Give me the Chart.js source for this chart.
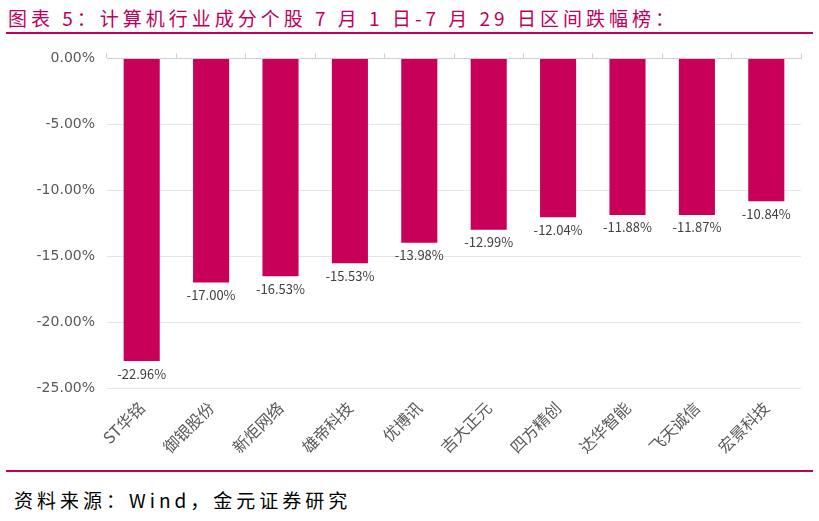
<!DOCTYPE html>
<html><head><meta charset="utf-8">
<script src="https://cdn.jsdelivr.net/npm/chart.js@4"></script>
<style>
body{margin:0;width:819px;height:521px;background:#fff;position:relative;font-family:"Noto Sans CJK SC",sans-serif;overflow:hidden}
#title{position:absolute;left:8px;top:4px;font-size:19px;color:#c0005a;letter-spacing:4px;white-space:nowrap}
.rule{position:absolute;left:6px;width:807px;height:2px;background:#c0005a}
#src{position:absolute;left:14px;top:486px;font-size:19px;color:#000;letter-spacing:4px}
#wrap{position:absolute;left:0;top:38px;width:819px;height:430px}
</style></head><body>
<div id="title">图表 5：计算机行业成分个股 7 月 1 日-7 月 29 日区间跌幅榜：</div>
<div class="rule" style="top:32px"></div>
<div id="wrap"><canvas id="c"></canvas></div>
<div class="rule" style="top:470px"></div>
<div id="src">资料来源：Wind，金元证券研究</div>
<script>
const categories = ['ST华铭','御银股份','新炬网络','雄帝科技','优博讯','吉大正元','四方精创','达华智能','飞天诚信','宏景科技'];
const changes = [-22.96,-17.00,-16.53,-15.53,-13.98,-12.99,-12.04,-11.88,-11.87,-10.84];
const yTicks = [0,-5,-10,-15,-20,-25];

const labelPlugin = {
  id: 'barLabels',
  afterDatasetsDraw(chart) {
    const ctx = chart.ctx;
    const meta = chart.getDatasetMeta(0);
    ctx.save();
    ctx.font = '13px "Noto Sans CJK SC", sans-serif';
    ctx.fillStyle = '#404040';
    ctx.textAlign = 'center';
    ctx.textBaseline = 'top';
    meta.data.forEach((bar, i) => {
      ctx.fillText(changes[i].toFixed(2) + '%', bar.x, bar.y + 6);
    });
    ctx.restore();
  }
};

new Chart(document.getElementById('c'), {
  type: 'bar',
  data: {
    labels: categories,
    datasets: [{ data: changes, backgroundColor: '#c8005a', barPercentage: 0.52, categoryPercentage: 1 }]
  },
  options: {
    responsive: true, maintainAspectRatio: false, animation: false,
    layout: { padding: { left: 0, right: 18, top: 12, bottom: 0 } },
    plugins: { legend: { display: false }, tooltip: { enabled: false } },
    scales: {
      x: {
        position: 'bottom',
        grid: { display: false },
        border: { display: false },
        ticks: { color: '#595959', font: { size: 16, family: '"Noto Sans CJK SC", sans-serif' }, maxRotation: 45, minRotation: 45, padding: 2 },
        afterFit: axis => { axis.height = 80; }
      },
      x2: {
        position: 'top', labels: categories, offset: true,
        grid: { offset: true, drawOnChartArea: false, tickLength: 5, color: '#d0d0d0' },
        border: { color: '#d0d0d0' },
        ticks: { display: false }
      },
      y: {
        min: -25, max: 0,
        afterBuildTicks: axis => { axis.ticks = yTicks.map(v => ({ value: v })); },
        grid: { color: '#e6e6e6', drawTicks: false },
        border: { display: false },
        ticks: { color: '#595959', padding: 12, font: { size: 14, family: '"DejaVu Sans", sans-serif' }, callback: v => v.toFixed(2) + '%' },
        afterFit: axis => { axis.width = 107; }
      }
    }
  },
  plugins: [labelPlugin]
});
</script>
</body></html>
